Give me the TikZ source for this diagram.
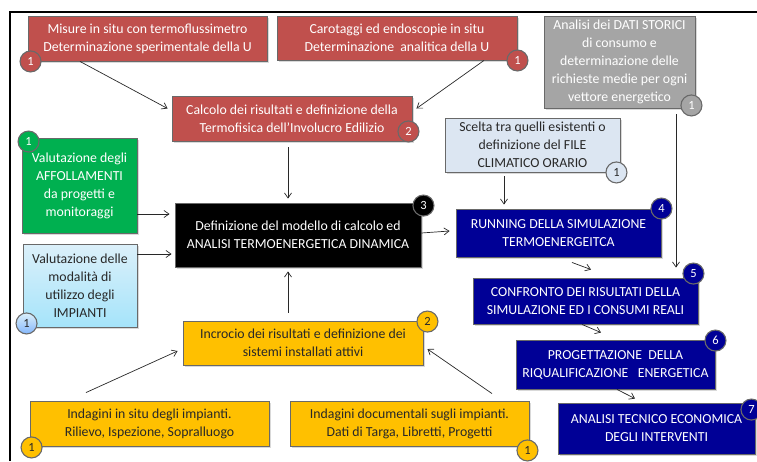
\documentclass[tikz,border=0pt]{standalone}
\usepackage{fontspec}
\setmainfont{Carlito}
\usetikzlibrary{arrows.meta,shadows}
\definecolor{cred}{RGB}{192,80,77}
\definecolor{cgray}{RGB}{165,165,165}
\definecolor{cgreen}{RGB}{0,176,80}
\definecolor{cblue}{RGB}{0,0,150}
\definecolor{corange}{RGB}{255,192,0}
\definecolor{cpale}{RGB}{220,230,242}
\definecolor{cborder}{RGB}{105,105,105}
\definecolor{ctext}{RGB}{40,40,40}
\definecolor{lbtop}{RGB}{220,240,250}
\definecolor{lbbot}{RGB}{165,228,250}
\tikzset{
  box/.style={draw=cborder, line width=0.9pt, inner sep=0pt, align=center,
    font=\fontsize{13.8}{18}\selectfont,
    drop shadow={opacity=0.3, shadow xshift=1.5pt, shadow yshift=-1.5pt}},
  redbox/.style={box, fill=cred, text=white},
  orbox/.style={box, fill=corange, text=ctext},
  bluebox/.style={box, fill=cblue, text=white},
  badge/.style={circle, draw=cborder, line width=1.1pt, inner sep=0pt,
    minimum size=21pt, font=\fontsize{12.5}{12.5}\selectfont},
  arr/.style={draw=ctext, line width=0.7pt, -{Straight Barb[length=5pt,width=7pt]}}
}
\begin{document}
\begin{tikzpicture}[x=1pt,y=-1pt]
\useasboundingbox (0,0) rectangle (757,461);
\draw[line width=1.4pt] (10,461) -- (10,12) -- (757,12);

% boxes
\node[redbox, minimum width=239pt, minimum height=45pt] (m1) at (147.5,38.5)
  {Misure in situ con termoflussimetro\\Determinazione sperimentale della U};
\node[redbox, minimum width=240pt, minimum height=44pt] (m2) at (397,38)
  {Carotaggi ed endoscopie in situ\\Determinazione\ \ analitica della U};
\node[box, fill=cgray, text=white, minimum width=151pt, minimum height=92pt] (gr) at (619.5,62)
  {Analisi dei DATI STORICI\\di consumo e\\determinazione delle\\richieste medie per ogni\\vettore energetico};
\node[redbox, minimum width=240pt, minimum height=45pt] (calc) at (292,118.5)
  {Calcolo dei risultati e definizione della\\Termofisica dell'Involucro Edilizio};
\node[box, fill=cgreen, text=white, minimum width=115pt, minimum height=95pt] (gn) at (79.5,185.5)
  {Valutazione degli\\AFFOLLAMENTI\\da progetti e\\monitoraggi};
\node[box, top color=lbtop, bottom color=lbbot, text=ctext, minimum width=114pt, minimum height=83pt] (lb) at (80,285.5)
  {Valutazione delle\\modalità di\\utilizzo degli\\IMPIANTI};
\node[box, fill=black, text=white, minimum width=246pt, minimum height=64pt] (bk) at (298,235)
  {Definizione del modello di calcolo ed\\ANALISI TERMOENERGETICA DINAMICA};
\node[box, fill=cpale, text=ctext, minimum width=175pt, minimum height=54pt] (sc) at (532.5,145)
  {Scelta tra quelli esistenti o\\definizione del FILE\\CLIMATICO ORARIO};
\node[bluebox, minimum width=205pt, minimum height=48pt] (run) at (558.5,233)
  {RUNNING DELLA SIMULAZIONE\\TERMOENERGEITCA};
\node[bluebox, minimum width=225pt, minimum height=46pt] (conf) at (585.5,301)
  {CONFRONTO DEI RISULTATI DELLA\\SIMULAZIONE ED I CONSUMI REALI};
\node[bluebox, minimum width=199pt, minimum height=49pt] (prog) at (615.5,364.5)
  {PROGETTAZIONE\ \ DELLA\\RIQUALIFICAZIONE\ \ \ ENERGETICA};
\node[bluebox, minimum width=197pt, minimum height=51pt] (an) at (656.5,428.5)
  {ANALISI TECNICO ECONOMICA\\DEGLI INTERVENTI};
\node[orbox, minimum width=240pt, minimum height=44pt] (inc) at (303,343)
  {Incrocio dei risultati e definizione dei\\sistemi installati attivi};
\node[orbox, minimum width=239pt, minimum height=45pt] (i1) at (149.5,423.5)
  {Indagini in situ degli impianti.\\Rilievo, Ispezione,\ Sopralluogo};
\node[orbox, minimum width=239pt, minimum height=45pt] (i2) at (409.5,423.5)
  {Indagini documentali sugli impianti.\\Dati di Targa, Libretti, Progetti};

% arrows
\draw[arr] ([xshift=-67.5pt]m1.south) -- ([xshift=-4pt,yshift=10pt]calc.west);
\draw[arr] ([xshift=87pt]m2.south) -- ([xshift=4pt,yshift=10pt]calc.east);
\draw[arr] ([xshift=-4pt,yshift=-6pt]calc.south) -- ([xshift=-10pt,yshift=4pt]bk.north);
\draw[arr] ([yshift=-28.5pt]gn.east) -- ([xshift=-5pt,yshift=21pt]bk.west);
\draw[arr] ([yshift=31.5pt]lb.east) -- ([xshift=-3pt,yshift=-19pt]bk.west);
\draw[arr] ([yshift=2pt]bk.east) -- ([xshift=-6pt,yshift=2pt]run.west);
\draw[arr] ([xshift=-28.5pt,yshift=-4pt]sc.south) -- ([xshift=-54.5pt,yshift=4pt]run.north);
\draw[arr] ([xshift=56.5pt,yshift=-6pt]gr.south) -- ([xshift=90.5pt,yshift=10pt]conf.north);
\draw[arr] ([xshift=13.5pt,yshift=-5pt]run.south) -- ([xshift=5.5pt,yshift=8pt]conf.north);
\draw[arr] ([xshift=-3.5pt]conf.south) -- ([xshift=-14.5pt,yshift=7pt]prog.north);
\draw[arr] ([xshift=1.5pt]prog.south) -- ([xshift=-21.5pt,yshift=4pt]an.north);
\draw[arr] ([xshift=-15pt,yshift=8pt]inc.north) -- ([xshift=-10pt,yshift=-4pt]bk.south);
\draw[arr] ([xshift=-63.5pt,yshift=8pt]i1.north) -- ([xshift=-5pt,yshift=-8pt]inc.west);
\draw[arr] ([xshift=82.5pt,yshift=7pt]i2.north) -- ([xshift=4pt,yshift=-6pt]inc.east);

% badges
\node[badge, fill=cred, text=white] (bm1) at ([xshift=3pt]m1.south west) {1};
\node[badge, fill=cred, text=white] (bm2) at (m2.south east) {1};
\node[badge, fill=cgray, text=white] (bgr) at ([xshift=-4pt,yshift=3pt]gr.south east) {1};
\node[badge, fill=cred, text=white] (bcalc) at ([xshift=-4pt,yshift=10pt]calc.south east) {2};
\node[badge, fill=cgreen, text=white] (bgn) at ([xshift=7pt,yshift=-4pt]gn.north west) {1};
\node[badge, top color=lbtop, bottom color=lbbot!80!blue, text=ctext] (blb) at ([xshift=4pt,yshift=4pt]lb.south west) {1};
\node[badge, fill=black, text=white] (bbk) at ([xshift=2pt,yshift=-3pt]bk.north east) {3};
\node[badge, fill=cpale, text=ctext] (bsc) at ([xshift=-4pt]sc.south east) {1};
\node[badge, fill=cblue, text=white] (brun) at (run.north east) {4};
\node[badge, fill=cblue, text=white] (bconf) at ([xshift=-5pt,yshift=4pt]conf.north east) {5};
\node[badge, fill=cblue, text=white] (bprog) at ([yshift=-1pt]prog.north east) {6};
\node[badge, fill=cblue, text=white] (ban) at ([xshift=-4pt,yshift=-7pt]an.north east) {7};
\node[badge, fill=corange, text=ctext] (binc) at ([xshift=4pt,yshift=-1pt]inc.north east) {2};
\node[badge, fill=corange, text=ctext] (bi1) at ([xshift=2pt,yshift=-1pt]i1.south west) {1};
\node[badge, fill=corange, text=ctext] (bi2) at ([xshift=-2pt,yshift=-4pt]i2.south east) {1};
\end{tikzpicture}
\end{document}
